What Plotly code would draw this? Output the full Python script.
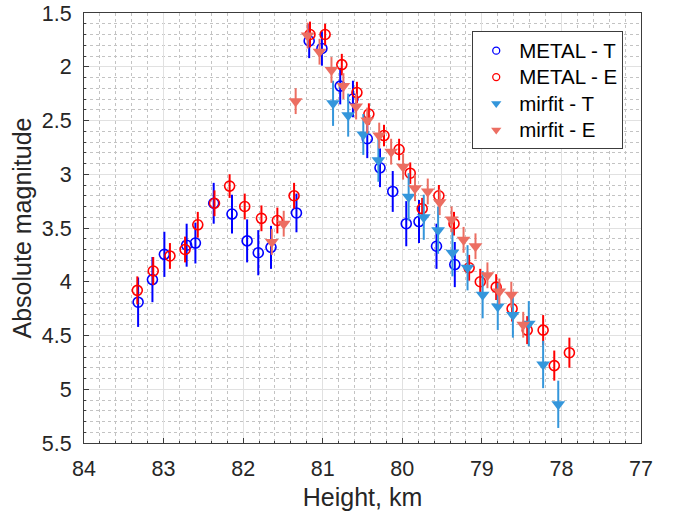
import plotly.graph_objects as go

# METAL - T
mt_h = [83.32, 83.14, 82.99, 82.71, 82.60, 82.37, 82.14, 81.95, 81.81, 81.65, 81.33,
        81.17, 81.01, 80.78, 80.62, 80.44, 80.28, 80.12, 79.95, 79.79, 79.57, 79.34]
mt_m = [4.19, 3.98, 3.745, 3.66, 3.64, 3.27, 3.37, 3.62, 3.73, 3.68, 3.36,
        1.76, 1.83, 2.18, 2.30, 2.67, 2.94, 3.16, 3.46, 3.44, 3.67, 3.84]
mt_e = [0.23, 0.21, 0.21, 0.20, 0.19, 0.19, 0.18, 0.20, 0.21, 0.20, 0.18,
        0.16, 0.16, 0.17, 0.17, 0.18, 0.18, 0.19, 0.21, 0.20, 0.21, 0.21]

# METAL - E
me_h = [83.33, 83.13, 82.92, 82.73, 82.57, 82.36, 82.17, 81.98, 81.77, 81.57, 81.36,
        81.16, 80.97, 80.76, 80.57, 80.42, 80.23, 80.04, 79.90, 79.75, 79.54, 79.35,
        79.16, 79.02, 78.82, 78.62, 78.43, 78.23, 78.09, 77.90]
me_m = [4.08, 3.90, 3.76, 3.70, 3.47, 3.27, 3.11, 3.30, 3.41, 3.43, 3.20,
        1.70, 1.70, 1.98, 2.24, 2.44, 2.64, 2.77, 2.99, 3.32, 3.20, 3.46,
        3.87, 4.00, 4.05, 4.25, 4.45, 4.45, 4.78, 4.66]
me_e = [0.13, 0.13, 0.12, 0.12, 0.12, 0.12, 0.11, 0.12, 0.12, 0.12, 0.12,
        0.12, 0.10, 0.10, 0.10, 0.10, 0.10, 0.10, 0.10, 0.10, 0.10, 0.11,
        0.12, 0.12, 0.12, 0.12, 0.13, 0.14, 0.14, 0.14]

# mirfit - T
ft_h = [80.87, 80.68, 80.49, 80.30, 79.92, 79.73, 79.55, 79.37, 79.18, 78.99,
        78.80, 78.61, 78.41, 78.23, 78.04]
ft_m = [2.34, 2.45, 2.63, 2.87, 3.21, 3.40, 3.52, 3.73, 3.87, 4.12,
        4.23, 4.31, 4.39, 4.77, 5.14]
ft_e = [0.21, 0.20, 0.19, 0.20, 0.22, 0.21, 0.22, 0.22, 0.21, 0.22,
        0.22, 0.21, 0.21, 0.22, 0.22]

# mirfit - E
fe_h = [81.64, 81.49, 81.34, 81.19, 81.04, 80.89, 80.74, 80.58, 80.44, 80.29,
        80.14, 79.99, 79.84, 79.68, 79.53, 79.38, 79.23, 79.08, 78.93, 78.78,
        78.63, 78.48]
fe_m = [3.63, 3.46, 2.32, 1.71, 1.86, 2.03, 2.18, 2.37, 2.50, 2.64,
        2.79, 2.93, 3.13, 3.16, 3.26, 3.42, 3.61, 3.67, 3.94, 4.09,
        4.12, 4.40]
fe_e = [0.12] * 22

x_ticks = [84, 83, 82, 81, 80, 79, 78, 77]
y_ticks = [1.5, 2, 2.5, 3, 3.5, 4, 4.5, 5, 5.5]
y_ticktext = ["1.5", "2", "2.5", "3", "3.5", "4", "4.5", "5", "5.5"]
series_names = ["METAL - T", "METAL - E", "mirfit - T", "mirfit - E"]

BLUE = "rgb(0,0,255)"
RED = "rgb(255,0,0)"
LBLUE = "rgb(52,150,219)"
SALMON = "rgb(236,110,98)"
FONT = "Liberation Sans, Arial, sans-serif"

series = [
    (mt_h, mt_m, mt_e, BLUE, "circle-open", 10, 7),
    (me_h, me_m, me_e, RED, "circle-open", 10, 7),
    (ft_h, ft_m, ft_e, LBLUE, "triangle-down", 12, 9),
    (fe_h, fe_m, fe_e, SALMON, "triangle-down", 12, 9),
]

fig = go.Figure()
for name, (h, m, e, col, sym, sz, lsz) in zip(series_names, series):
    open_marker = sym.endswith("open")
    fig.add_trace(go.Scatter(
        x=h, y=m, mode="markers", name=name, showlegend=False, legendgroup=name,
        marker=dict(symbol=sym, size=sz, color=col,
                    line=dict(width=1.6 if open_marker else 0, color=col)),
        error_y=dict(type="data", array=e, visible=True, color=col, thickness=2, width=0),
    ))
    # legend-only entry with the smaller legend symbol
    fig.add_trace(go.Scatter(
        x=[None], y=[None], mode="markers", legendgroup=name,
        name='<span style="font-size:20.5px">' + name + "</span>",
        marker=dict(symbol=sym, size=lsz, color=col,
                    line=dict(width=1.3 if open_marker else 0, color=col)),
    ))

axis_common = dict(
    showline=True, mirror=True, linecolor="rgb(60,60,60)", linewidth=1,
    ticks="inside", ticklen=5, tickcolor="rgb(60,60,60)",
    showgrid=True, gridcolor="rgb(225,225,225)", gridwidth=1,
    zeroline=False, automargin=False,
    tickfont=dict(family=FONT, size=21.5, color="rgb(38,38,38)"),
)

fig.update_xaxes(
    range=[84, 77], tickvals=x_ticks, ticktext=[str(v) for v in x_ticks],
    title=dict(text="Height, km", font=dict(family=FONT, size=25, color="rgb(38,38,38)"), standoff=12),
    minor=dict(dtick=0.2, showgrid=True, griddash="dot", gridcolor="rgb(195,195,195)",
               ticks="inside", ticklen=2, tickcolor="rgb(60,60,60)"),
    ticklabelstandoff=6,
    **axis_common,
)
fig.update_yaxes(
    range=[5.5, 1.5], tickvals=y_ticks, ticktext=y_ticktext,
    title=dict(text="Absolute magnitude", font=dict(family=FONT, size=25, color="rgb(38,38,38)"), standoff=3),
    minor=dict(dtick=0.1, showgrid=True, griddash="dot", gridcolor="rgb(195,195,195)",
               ticks="inside", ticklen=2, tickcolor="rgb(60,60,60)"),
    ticklabelstandoff=7,
    **axis_common,
)

fig.update_layout(
    width=676, height=511,
    margin=dict(l=84, r=35, t=13, b=68),
    paper_bgcolor="white", plot_bgcolor="white",
    showlegend=True,
    legend=dict(
        x=0.697, y=0.957, xanchor="left", yanchor="top",
        bgcolor="white", bordercolor="rgb(60,60,60)", borderwidth=1,
        font=dict(family=FONT, size=18, color="black"),
        tracegroupgap=0, itemsizing="trace", itemwidth=36,
    ),
)

fig.write_html("out.html")
